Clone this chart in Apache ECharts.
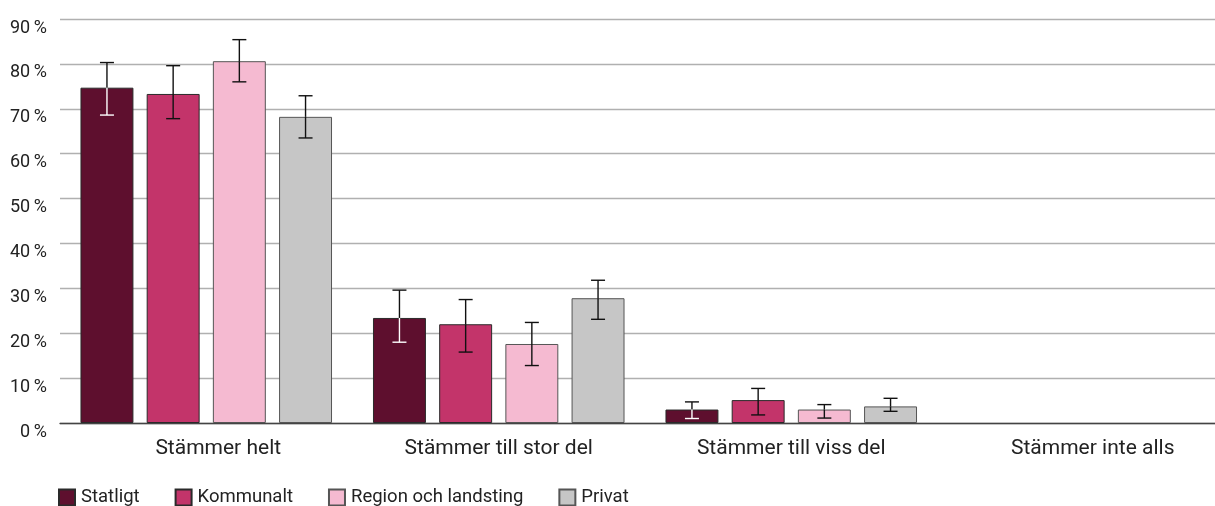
<!DOCTYPE html>
<html>
<head>
<meta charset="utf-8">
<script src="https://cdn.jsdelivr.net/npm/echarts@6/dist/echarts.min.js"></script>
<style>
html,body{margin:0;padding:0;background:#fff;overflow:hidden;}
#chart{width:1230px;height:506px;}
</style>
</head>
<body>
<div id="chart"></div>
<script>
const categories = ['Stämmer helt', 'Stämmer till stor del', 'Stämmer till viss del', 'Stämmer inte alls'];
const seriesNames = ['Statligt', 'Kommunalt', 'Region och landsting', 'Privat'];

const statligt = [74.7, 23.4, 3.0, null];
const kommunalt = [73.3, 22.0, 5.1, null];
const region = [80.6, 17.6, 3.0, null];
const privat = [68.2, 27.8, 3.7, null];

const statligtLow = [68.6, 18.0, 1.0, null];
const statligtHigh = [80.3, 29.6, 4.7, null];
const kommunaltLow = [67.8, 15.8, 1.8, null];
const kommunaltHigh = [79.6, 27.5, 7.7, null];
const regionLow = [76.0, 12.8, 1.1, null];
const regionHigh = [85.4, 22.4, 4.1, null];
const privatLow = [63.5, 23.1, 2.6, null];
const privatHigh = [72.9, 31.8, 5.5, null];

const yTicks = [0, 10, 20, 30, 40, 50, 60, 70, 80, 90];

const values = [statligt, kommunalt, region, privat];
const lows = [statligtLow, kommunaltLow, regionLow, privatLow];
const highs = [statligtHigh, kommunaltHigh, regionHigh, privatHigh];
const colors = ['#5e0f2e', '#c3346a', '#f5bad1', '#c6c6c6'];
const borders = ['#2a2a2a', '#2a2a2a', '#555555', '#555555'];
const innerErrColor = ['#ffffff', '#111111', '#111111', '#111111'];
const labelPadLeft = [24, 0, 0, 18];

const CAT_GAP = 0.14, BAR_GAP = 0.25, N = 4;

function makeErrorRender(idx) {
  return function (params, api) {
    const x = api.value(0);
    const lo = api.coord([x, api.value(1)]);
    const hi = api.coord([x, api.value(2)]);
    const mid = api.coord([x, api.value(3)]);
    const band = api.size([1, 0])[0];
    const usable = band * (1 - CAT_GAP);
    const bw = usable / (N + (N - 1) * BAR_GAP);
    const off = -usable / 2 + idx * bw * (1 + BAR_GAP) + bw / 2;
    const cx = lo[0] + off;
    const cap = 7;
    const topY = hi[1], botY = lo[1], midY = mid[1];
    const black = '#111111';
    const inner = innerErrColor[idx];
    const children = [
      {type: 'line', shape: {x1: cx, y1: topY, x2: cx, y2: midY}, style: {stroke: black, lineWidth: 1.4}},
      {type: 'line', shape: {x1: cx, y1: midY, x2: cx, y2: botY}, style: {stroke: inner, lineWidth: 1.4}},
      {type: 'line', shape: {x1: cx - cap, y1: topY, x2: cx + cap, y2: topY}, style: {stroke: black, lineWidth: 1.4}},
      {type: 'line', shape: {x1: cx - cap, y1: botY, x2: cx + cap, y2: botY}, style: {stroke: botY > midY ? inner : black, lineWidth: 1.4}}
    ];
    return {type: 'group', children: children};
  };
}

const series = [];
seriesNames.forEach(function (name, i) {
  series.push({
    name: name,
    type: 'bar',
    data: values[i],
    barCategoryGap: (CAT_GAP * 100) + '%',
    barGap: (BAR_GAP * 100) + '%',
    itemStyle: {color: colors[i], borderColor: borders[i], borderWidth: 1},
    emphasis: {disabled: true},
    z: 2
  });
});
seriesNames.forEach(function (name, i) {
  const d = [];
  categories.forEach(function (c, k) {
    if (values[i][k] != null) d.push([k, lows[i][k], highs[i][k], values[i][k]]);
  });
  series.push({
    name: name + ' err',
    type: 'custom',
    renderItem: makeErrorRender(i),
    data: d,
    encode: {x: 0, y: [1, 2]},
    z: 5,
    silent: true,
    clip: false
  });
});

const xData = categories.map(function (c, k) {
  return {value: c, textStyle: {padding: [0, 0, 0, labelPadLeft[k]]}};
});

const chart = echarts.init(document.getElementById('chart'), null, {renderer: 'canvas'});
chart.setOption({
  animation: false,
  backgroundColor: '#ffffff',
  textStyle: {fontFamily: 'Roboto'},
  grid: {left: 60, right: 0, top: 19, height: 404},
  legend: {
    data: seriesNames,
    left: 58,
    top: 488,
    padding: 0,
    itemWidth: 16,
    itemHeight: 16,
    itemGap: 35,
    icon: 'rect',
    textStyle: {fontFamily: 'Roboto', fontSize: 18.5, color: '#222', padding: [0, 0, 0, 1]}
  },
  xAxis: {
    type: 'category',
    data: xData,
    axisTick: {show: false},
    axisLine: {lineStyle: {color: '#444', width: 1.3}},
    axisLabel: {fontFamily: 'Roboto', fontSize: 21, color: '#222', margin: 15}
  },
  yAxis: {
    type: 'value',
    min: yTicks[0],
    max: yTicks[yTicks.length - 1],
    interval: 10,
    axisLine: {show: false},
    axisTick: {show: false},
    splitLine: {lineStyle: {color: '#b0b0b0', width: 1.3}},
    axisLabel: {
      fontFamily: 'Roboto', fontSize: 18, color: '#222', margin: 13,
      verticalAlign: 'top', lineHeight: 18,
      formatter: function (v) { return v + '\u2009%'; }
    }
  },
  series: series
});
</script>
</body>
</html>
